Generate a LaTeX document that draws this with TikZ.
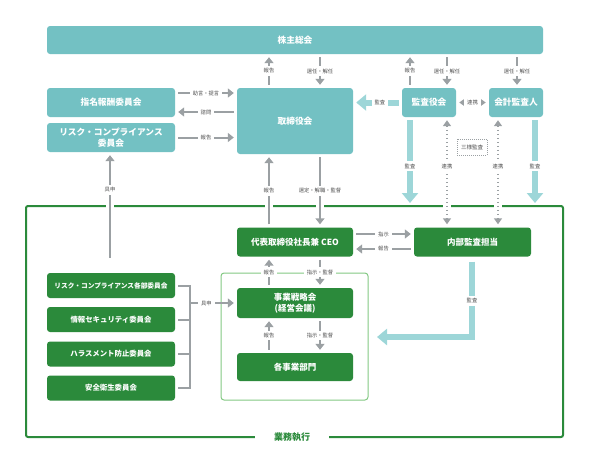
\documentclass[tikz,border=0pt]{standalone}
\usepackage{fontspec}
\setmainfont{Noto Sans CJK JP}
\usetikzlibrary{arrows.meta,calc}
\definecolor{teal1}{RGB}{115,193,195}
\definecolor{lteal}{RGB}{157,214,216}
\definecolor{green1}{RGB}{43,138,59}
\definecolor{lgreen}{RGB}{130,200,130}
\definecolor{grey1}{RGB}{155,160,163}
\definecolor{lbltext}{RGB}{80,80,80}
\begin{document}
\begin{tikzpicture}[x=1pt,y=-1pt,
  tbox/.style={fill=teal1, rounded corners=3pt, text=white, font=\bfseries\fontsize{8.7}{11}\selectfont, align=center, inner sep=0pt},
  gbox/.style={fill=green1, rounded corners=3pt, text=white, font=\bfseries\fontsize{8.5}{11}\selectfont, align=center, inner sep=0pt},
  cbox/.style={gbox, minimum width=128pt, minimum height=25pt, font=\bfseries\fontsize{7.4}{9}\selectfont},
  garrow/.style={draw=grey1, line width=2pt, -{Triangle[width=9pt,length=6pt]}, shorten <=3pt, shorten >=3pt},
  gline/.style={draw=grey1, line width=2pt},
  lbl/.style={fill=white, text=lbltext, font=\fontsize{5.3}{6}\selectfont, inner xsep=3pt, inner ysep=2.5pt},
  tarrow/.style={draw=lteal, line width=6pt, line join=miter, -{Triangle[width=16pt,length=10pt]}},
  darrow/.style={draw=grey1, line width=1.5pt, dash pattern=on 1.5pt off 2.5pt, {Triangle[width=8pt,length=6pt]}-{Triangle[width=8pt,length=6pt]}, shorten <=3pt, shorten >=3pt}
]
\useasboundingbox (0,0) rectangle (589,459);

% frames
\draw[green1, line width=2pt, rounded corners=2pt] (292,437) -- (26,437) -- (26,206) -- (563,206) -- (563,437) -- (292,437);
\foreach \x in {110,269,320,447,498} \draw[white, line width=5pt] (\x-4,206) -- (\x+4,206);
\node[fill=white, text=green1, font=\bfseries\fontsize{9}{10}\selectfont, inner xsep=19pt, inner ysep=2pt] (gyomu) at (292,437) {業務執行};
\draw[lgreen, line width=1pt, rounded corners=3pt] (221,273) rectangle (368,400);

% teal boxes
\node[tbox, minimum width=496pt, minimum height=28pt] (sh) at (295,40) {株主総会};
\node[tbox, minimum width=128pt, minimum height=29pt] (nom) at (111,102.5) {指名報酬委員会};
\node[tbox, minimum width=128pt, minimum height=29pt] (risk) at (111,137.5) {リスク・コンプライアンス\\委員会};
\node[tbox, minimum width=116pt, minimum height=66pt] (bod) at (295,121) {取締役会};
\node[tbox, minimum width=54pt, minimum height=29pt] (kan) at (429,102.5) {監査役会};
\node[tbox, minimum width=54pt, minimum height=29pt] (kai) at (516,102.5) {会計監査人};

% green boxes
\node[gbox, minimum width=116pt, minimum height=29pt] (ceo) at (295,242) {代表取締役社長兼 CEO};
\node[gbox, minimum width=117pt, minimum height=29pt] (ia) at (472.5,242) {内部監査担当};
\node[gbox, minimum width=116pt, minimum height=30pt] (ss) at (295,303) {事業戦略会\\(経営会議)};
\node[gbox, minimum width=116pt, minimum height=28pt] (bu) at (295,367) {各事業部門};
\node[cbox, font=\bfseries\fontsize{6.7}{8}\selectfont] (c1) at (111,285.5) {リスク・コンプライアンス各部委員会};
\node[cbox] (c2) at (111,319.5) {情報セキュリティ委員会};
\node[cbox] (c3) at (111,354) {ハラスメント防止委員会};
\node[cbox] (c4) at (111,388) {安全衛生委員会};

\node[draw=grey1, line width=1pt, dash pattern=on 1pt off 1pt, minimum width=30pt, minimum height=16pt, inner sep=0pt, text=lbltext, font=\fontsize{5.5}{6}\selectfont] (sanyo) at (472,147) {三様監査};

% helper x positions
\coordinate (x110) at (110,0);
\coordinate (x269) at (269,0);
\coordinate (x320) at (320,0);
\coordinate (x410) at (410,0);
\coordinate (x447) at (447,0);
\coordinate (x498) at (498,0);
\coordinate (x517) at (517,0);
\coordinate (x535) at (535,0);
\coordinate (bx) at (190,0);

% shareholders <-> boards
\draw[garrow] (bod.north -| x269) -- node[lbl]{報告} (sh.south -| x269);
\draw[garrow] (sh.south -| x320) -- node[lbl]{選任・解任} (bod.north -| x320);
\draw[garrow] (kan.north -| x410) -- node[lbl]{報告} (sh.south -| x410);
\draw[garrow] (sh.south -| x447) -- node[lbl]{選任・解任} (kan.north -| x447);
\draw[garrow] (sh.south -| x517) -- node[lbl]{選任・解任} (kai.north -| x517);

% committees <-> board
\coordinate (a1) at ([yshift=9.5pt]nom.east);
\coordinate (a2) at ([yshift=-9.5pt]nom.east);
\draw[garrow] (a1) -- node[lbl]{助言・提言} (a1 -| bod.west);
\draw[garrow] (a2 -| bod.west) -- node[lbl]{諮問} (a2);
\draw[garrow] (risk.east) -- node[lbl]{報告} (risk.east -| bod.west);

% audit arrows
\draw[tarrow, shorten <=3pt, shorten >=3pt] (kan.west) -- node[lbl,pos=0.45]{監査} (kan.west -| bod.east);
\draw[darrow] (kan.east) -- node[lbl]{連携} (kai.west);
\coordinate (t1) at (410,203);
\coordinate (t2) at (535,203);
\draw[tarrow, shorten <=3pt] (kan.south -| x410) -- node[lbl,pos=0.57]{監査} (t1);
\draw[tarrow, shorten <=3pt] (kai.south -| x535) -- node[lbl,pos=0.57]{監査} (t2);
\draw[darrow] (kan.south -| x447) -- node[lbl,pos=0.445]{連携} (ia.north -| x447);
\draw[darrow] (kai.south -| x498) -- node[lbl,pos=0.445]{連携} (ia.north -| x498);

% board <-> CEO
\draw[garrow] (ceo.north -| x269) -- node[lbl]{報告} (bod.south -| x269);
\draw[garrow] (bod.south -| x320) -- node[lbl]{選定・解職・監督} (ceo.north -| x320);

% CEO <-> internal audit
\coordinate (b1) at ([yshift=8pt]ceo.east);
\coordinate (b2) at ([yshift=-7pt]ceo.east);
\draw[garrow] (b1) -- node[lbl]{指示} (b1 -| ia.west);
\draw[garrow] (b2 -| ia.west) -- node[lbl]{報告} (b2);

% internal audit -> business execution
\coordinate (e1) at (472,337);
\coordinate (e2) at (377,337);
\draw[tarrow, shorten <=5pt] (ia.south -| e1) -- node[lbl,pos=0.55]{監査} (e1) -- (e2);

% CEO <-> strategy <-> divisions
\draw[garrow] (ss.north -| x269) -- node[lbl]{報告} (ceo.south -| x269);
\draw[garrow] (ceo.south -| x320) -- node[lbl]{指示・監督} (ss.north -| x320);
\draw[garrow] (bu.north -| x269) -- node[lbl]{報告} (ss.south -| x269);
\draw[garrow] (ss.south -| x320) -- node[lbl]{指示・監督} (bu.north -| x320);

% committees bracket
\draw[gline] ([xshift=3pt]c1.east) -- (c1.east -| bx) -- (c4.east -| bx) -- ([xshift=3pt]c4.east);
\draw[gline] ([xshift=3pt]c2.east) -- (c2.east -| bx);
\draw[gline] ([xshift=3pt]c3.east) -- (c3.east -| bx);
\draw[garrow, shorten <=0pt] (ss.west -| bx) -- node[lbl,pos=0.35]{具申} (ss.west);

% 具申 to risk committee
\draw[garrow, shorten <=15pt] (c1.north -| x110) -- node[lbl,pos=0.69]{具申} (risk.south -| x110);
\end{tikzpicture}
\end{document}
